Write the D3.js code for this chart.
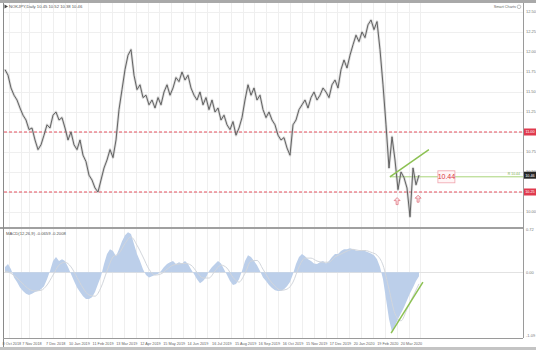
<!DOCTYPE html>
<html>
<head>
<meta charset="utf-8">
<script src="https://cdn.jsdelivr.net/npm/d3@7"></script>
<style>
  body { margin: 0; background: #fff; }
  svg { display: block; font-family: "Liberation Sans", "DejaVu Sans", sans-serif; }
</style>
</head>
<body>
<div id="chart"></div>
<script>
// closing prices, one point per 3 daily bars
const closes = [
  11.78, 11.71, 11.55, 11.46, 11.40, 11.30, 11.21, 11.15, 11.03, 11.05,
  10.90, 10.78, 10.84, 10.96, 11.09, 11.05, 11.21, 11.25, 11.15, 11.18,
  11.05, 10.90, 11.00, 10.84, 10.78, 10.90, 10.71, 10.63, 10.46, 10.40,
  10.30, 10.25, 10.40, 10.55, 10.65, 10.78, 10.68, 10.90, 11.28, 11.53,
  11.78, 11.96, 12.03, 11.71, 11.53, 11.59, 11.43, 11.46, 11.34, 11.40,
  11.30, 11.43, 11.34, 11.50, 11.59, 11.46, 11.55, 11.68, 11.63, 11.75,
  11.65, 11.71, 11.55, 11.46, 11.40, 11.50, 11.34, 11.43, 11.28, 11.40,
  11.25, 11.30, 11.15, 11.21, 11.09, 11.03, 11.13, 10.96, 11.05, 11.18,
  11.40, 11.59, 11.46, 11.55, 11.40, 11.46, 11.28, 11.18, 11.25, 11.15,
  11.09, 10.96, 10.90, 10.93, 10.80, 10.71, 11.09, 11.15, 11.28, 11.34,
  11.40, 11.30, 11.43, 11.50, 11.40, 11.46, 11.55, 11.50, 11.43, 11.59,
  11.65, 11.55, 11.78, 11.90, 11.80, 11.96, 12.09, 12.21, 12.13, 12.25,
  12.18, 12.34, 12.40, 12.28, 12.38, 12.03, 11.59, 11.09, 10.55, 10.94,
  10.65, 10.28, 10.50, 10.43, 10.30, 9.94, 10.55, 10.34, 10.46
];

// MACD main (histogram), same points as closes
const macdHist = [
  0.09, 0.14, 0.05, -0.09, -0.17, -0.26, -0.32, -0.37, -0.39, -0.37,
  -0.34, -0.32, -0.29, -0.24, -0.12, 0.02, 0.19, 0.26, 0.19, 0.22,
  0.19, 0.09, -0.03, -0.15, -0.26, -0.34, -0.41, -0.46, -0.46, -0.43,
  -0.34, -0.20, -0.07, 0.14, 0.31, 0.39, 0.36, 0.27, 0.39, 0.53,
  0.63, 0.68, 0.65, 0.48, 0.31, 0.19, 0.05, -0.05, -0.09, -0.07,
  -0.05, -0.03, 0.02, 0.09, 0.14, 0.17, 0.19, 0.14, 0.17, 0.15,
  0.19, 0.14, 0.05, -0.03, -0.12, -0.19, -0.15, -0.09, 0.02, 0.09,
  0.14, 0.19, 0.15, 0.05, -0.05, -0.15, -0.22, -0.20, -0.12, 0.02,
  0.19, 0.29, 0.26, 0.19, 0.12, 0.02, -0.09, -0.15, -0.22, -0.27,
  -0.31, -0.32, -0.32, -0.29, -0.24, -0.17, -0.03, 0.14, 0.26, 0.31,
  0.27, 0.22, 0.19, 0.15, 0.14, 0.17, 0.19, 0.15, 0.19, 0.26,
  0.31, 0.31, 0.36, 0.39, 0.39, 0.41, 0.39, 0.37, 0.36, 0.37,
  0.36, 0.34, 0.32, 0.29, 0.22, 0.09, -0.12, -0.46, -0.80, -1.02,
  -0.92, -0.80, -0.70, -0.60, -0.48, -0.36, -0.26, -0.15, -0.07
];

// MACD signal, every second point
const macdSignal = [
  0.02, -0.02, -0.10, -0.20, -0.29, -0.32, -0.31, -0.22, -0.05, 0.12,
  0.17, 0.09, -0.09, -0.27, -0.39, -0.41, -0.26, 0.02, 0.26, 0.32,
  0.49, 0.60, 0.46, 0.26, 0.05, -0.05, -0.03, 0.05, 0.12, 0.14,
  0.15, 0.12, 0.00, -0.10, -0.10, 0.02, 0.12, 0.07, -0.09, -0.17,
  -0.02, 0.19, 0.20, 0.05, -0.12, -0.24, -0.31, -0.29, -0.17, 0.09,
  0.24, 0.24, 0.19, 0.17, 0.17, 0.26, 0.31, 0.36, 0.39, 0.37,
  0.37, 0.34, 0.29, 0.12, -0.29, -0.71, -0.83, -0.63, -0.41, -0.20
];

const priceTicks = [12.50, 12.25, 12.00, 11.75, 11.50, 11.25, 11.00, 10.75, 10.50, 10.25, 10.00];
const macdTicks = [0.72, 0.00, -1.09];
const dateTickIdx = [2.3, 9, 16.9, 24.8, 32.7, 40.6, 48.5, 56.4, 64.3, 72.3, 80.2, 88.1, 96, 103.9, 111.8, 119.7, 127.6, 135.5];
const dateLabels = [
  "8 Oct 2018", "7 Nov 2018", "7 Dec 2018", "10 Jan 2019", "11 Feb 2019", "13 Mar 2019",
  "12 Apr 2019", "15 May 2019", "14 Jun 2019", "16 Jul 2019", "15 Aug 2019", "16 Sep 2019",
  "16 Oct 2019", "15 Nov 2019", "17 Dec 2019", "20 Jan 2020", "19 Feb 2020", "20 Mar 2020"
];
const levels = [11.00, 10.25];
const markLevel = 10.44;
const markStartIdx = 128.3;
const trendPrice = [[128.3, 10.44], [141.3, 10.78]];
const trendMacd = [[128.7, -1.04], [139.3, -0.17]];
const arrows = [[130.7, 10.13], [137.7, 10.16]];
const title = "NOKJPY,Daily  10.45 10.52 10.38 10.46";
const macdTitle = "MACD(12,26,9) -0.0659 -0.2008";

const W = 536, H = 350;
const left = 4, right = 523;
const mTop = 3, mBot = 227, iTop = 229, iBot = 338;

const x = d3.scaleLinear().domain([0, 173]).range([5, 524]);
const y = d3.scaleLinear().domain([10.0, 12.5]).range([212, 12]);
const yM = d3.scaleLinear().domain([-1.09, 0.72]).range([336, 230]);

const svg = d3.select("#chart").append("svg")
  .attr("width", W).attr("height", H)
  .attr("viewBox", [0, 0, W, H]);

svg.append("rect").attr("width", W).attr("height", H).attr("fill", "#fff");

const defs = svg.append("defs");
defs.append("clipPath").attr("id", "clipMain")
  .append("rect").attr("x", left).attr("y", mTop).attr("width", right - left).attr("height", mBot - mTop);
defs.append("clipPath").attr("id", "clipInd")
  .append("rect").attr("x", left).attr("y", iTop).attr("width", right - left).attr("height", iBot - iTop);

// grid lines
const gridIdx = [];
dateTickIdx.forEach(d => { gridIdx.push(d - 1); gridIdx.push(d + 2.95); });
const grid = svg.append("g").attr("stroke", "#efefef").attr("stroke-width", 1);
grid.selectAll("line.v").data(gridIdx).join("line")
  .attr("x1", d => Math.round(x(d)) + 0.5).attr("x2", d => Math.round(x(d)) + 0.5)
  .attr("y1", mTop).attr("y2", iBot);
grid.selectAll("line.h").data(priceTicks).join("line")
  .attr("x1", left).attr("x2", right)
  .attr("y1", d => Math.round(y(d)) + 0.5).attr("y2", d => Math.round(y(d)) + 0.5);
grid.append("line")
  .attr("x1", left).attr("x2", right)
  .attr("y1", Math.round(yM(0)) + 0.5).attr("y2", Math.round(yM(0)) + 0.5)
  .attr("stroke", "#e2e2e2");

// ---- main panel ----
const main = svg.append("g").attr("clip-path", "url(#clipMain)");

main.selectAll("line.level").data(levels).join("line")
  .attr("x1", left).attr("x2", right)
  .attr("y1", d => y(d)).attr("y2", d => y(d))
  .attr("stroke", "#e5505f").attr("stroke-width", 1)
  .attr("stroke-dasharray", "3,2");

main.append("line")
  .attr("x1", x(markStartIdx)).attr("x2", right)
  .attr("y1", y(markLevel)).attr("y2", y(markLevel))
  .attr("stroke", "#a8d47a").attr("stroke-width", 1);

const priceLine = d3.line().x((d, i) => x(i)).y(d => y(d));
main.append("path").datum(closes)
  .attr("d", priceLine).attr("fill", "none")
  .attr("stroke", "#b0b0b0").attr("stroke-width", 2.6).attr("stroke-opacity", 0.45)
  .attr("stroke-linejoin", "round");
main.append("path").datum(closes)
  .attr("d", priceLine).attr("fill", "none")
  .attr("stroke", "#555").attr("stroke-width", 0.9)
  .attr("stroke-linejoin", "round");

main.append("line")
  .attr("x1", x(trendPrice[0][0])).attr("y1", y(trendPrice[0][1]))
  .attr("x2", x(trendPrice[1][0])).attr("y2", y(trendPrice[1][1]))
  .attr("stroke", "#8cc152").attr("stroke-width", 1.5);

main.selectAll("path.arrow").data(arrows).join("path")
  .attr("transform", d => `translate(${x(d[0])},${y(d[1])})`)
  .attr("d", "M0,-4L3,-1L1,-1L1,3L-1,3L-1,-1L-3,-1Z")
  .attr("fill", "#fbe3e6").attr("stroke", "#e07884").attr("stroke-width", 0.8);

// level label box
const boxX = x(144.3);
main.append("rect")
  .attr("x", boxX).attr("y", y(markLevel) - 6)
  .attr("width", 17).attr("height", 12)
  .attr("fill", "#fff5f6").attr("stroke", "#f0a4ad").attr("stroke-width", 0.8);
main.append("text")
  .attr("x", boxX + 8.5).attr("y", y(markLevel))
  .attr("dy", "0.35em").attr("text-anchor", "middle")
  .attr("font-size", 7).attr("fill", "#d83545")
  .text(markLevel.toFixed(2));
main.append("text")
  .attr("x", right - 3).attr("y", y(markLevel) - 1.5)
  .attr("text-anchor", "end").attr("font-size", 3.5).attr("fill", "#7bb04a")
  .text("R " + markLevel.toFixed(2));

// ---- indicator panel ----
const ind = svg.append("g").attr("clip-path", "url(#clipInd)");
const histArea = d3.area().x((d, i) => x(i)).y0(yM(0)).y1(d => yM(d));
ind.append("path").datum(macdHist)
  .attr("d", histArea).attr("fill", "#bccfea");
ind.append("path").datum(macdSignal)
  .attr("d", d3.line().x((d, k) => x(2 * k)).y(d => yM(d)).curve(d3.curveMonotoneX))
  .attr("fill", "none").attr("stroke", "#d2d6dc").attr("stroke-width", 1);
ind.append("line")
  .attr("x1", x(trendMacd[0][0])).attr("y1", yM(trendMacd[0][1]))
  .attr("x2", x(trendMacd[1][0])).attr("y2", yM(trendMacd[1][1]))
  .attr("stroke", "#8cc152").attr("stroke-width", 1.5);

// ---- frame ----
svg.append("rect").attr("x", 0).attr("y", 0).attr("width", W).attr("height", 3).attr("fill", "#a9a9a9");
svg.append("rect").attr("x", 0).attr("y", mBot).attr("width", right).attr("height", iTop - mBot).attr("fill", "#a0a0a0");
svg.append("line").attr("x1", 3.5).attr("x2", 3.5).attr("y1", 3).attr("y2", 347).attr("stroke", "#8a8a8a");
svg.append("line").attr("x1", right + 0.5).attr("x2", right + 0.5).attr("y1", 3).attr("y2", iBot).attr("stroke", "#9a9a9a");
svg.append("line").attr("x1", 3).attr("x2", right).attr("y1", iBot + 0.5).attr("y2", iBot + 0.5).attr("stroke", "#9a9a9a");
svg.append("rect").attr("x", 0).attr("y", 347).attr("width", W).attr("height", 3).attr("fill", "#c4c4c4");

// ---- texts ----
svg.append("path").attr("d", "M4.5,4.5L8,6.5L4.5,8.5Z").attr("fill", "#444");
svg.append("text").attr("x", 9).attr("y", 8.2).attr("font-size", 4.2).attr("fill", "#555").text(title);
svg.append("text").attr("x", 6).attr("y", iTop + 6).attr("font-size", 4.2).attr("fill", "#555").text(macdTitle);
svg.append("text").attr("x", 516).attr("y", 8).attr("text-anchor", "end").attr("font-size", 3.8).attr("fill", "#666").text("Smart Charts");
svg.append("circle").attr("cx", 519).attr("cy", 6.8).attr("r", 1.8).attr("fill", "none").attr("stroke", "#999").attr("stroke-width", 0.6);

const axisR = svg.append("g").attr("font-size", 4).attr("fill", "#777");
axisR.selectAll("text.p").data(priceTicks).join("text")
  .attr("x", 526).attr("y", d => y(d)).attr("dy", "0.35em")
  .text(d => d.toFixed(2));
axisR.selectAll("text.m").data(macdTicks).join("text")
  .attr("x", 526).attr("y", d => yM(d)).attr("dy", "0.35em")
  .text(d => d.toFixed(2));

// price tags on axis
const tags = [
  ...levels.map(v => ({ v, fill: "#e03a4e" })),
  { v: closes[closes.length - 1], fill: "#262626" }
];
const tagG = svg.selectAll("g.tag").data(tags).join("g")
  .attr("transform", d => `translate(${right + 1},${y(d.v)})`);
tagG.append("rect").attr("x", 0).attr("y", -3.5).attr("width", 12).attr("height", 7).attr("fill", d => d.fill);
tagG.append("text").attr("x", 6).attr("dy", "0.35em").attr("text-anchor", "middle")
  .attr("font-size", 3.8).attr("fill", "#fff").text(d => d.v.toFixed(2));

// date labels
svg.append("g").attr("font-size", 3.8).attr("fill", "#666")
  .selectAll("text").data(dateTickIdx).join("text")
  .attr("x", d => x(d)).attr("y", 344.5).attr("text-anchor", "middle")
  .text((d, i) => dateLabels[i]);
</script>
</body>
</html>
